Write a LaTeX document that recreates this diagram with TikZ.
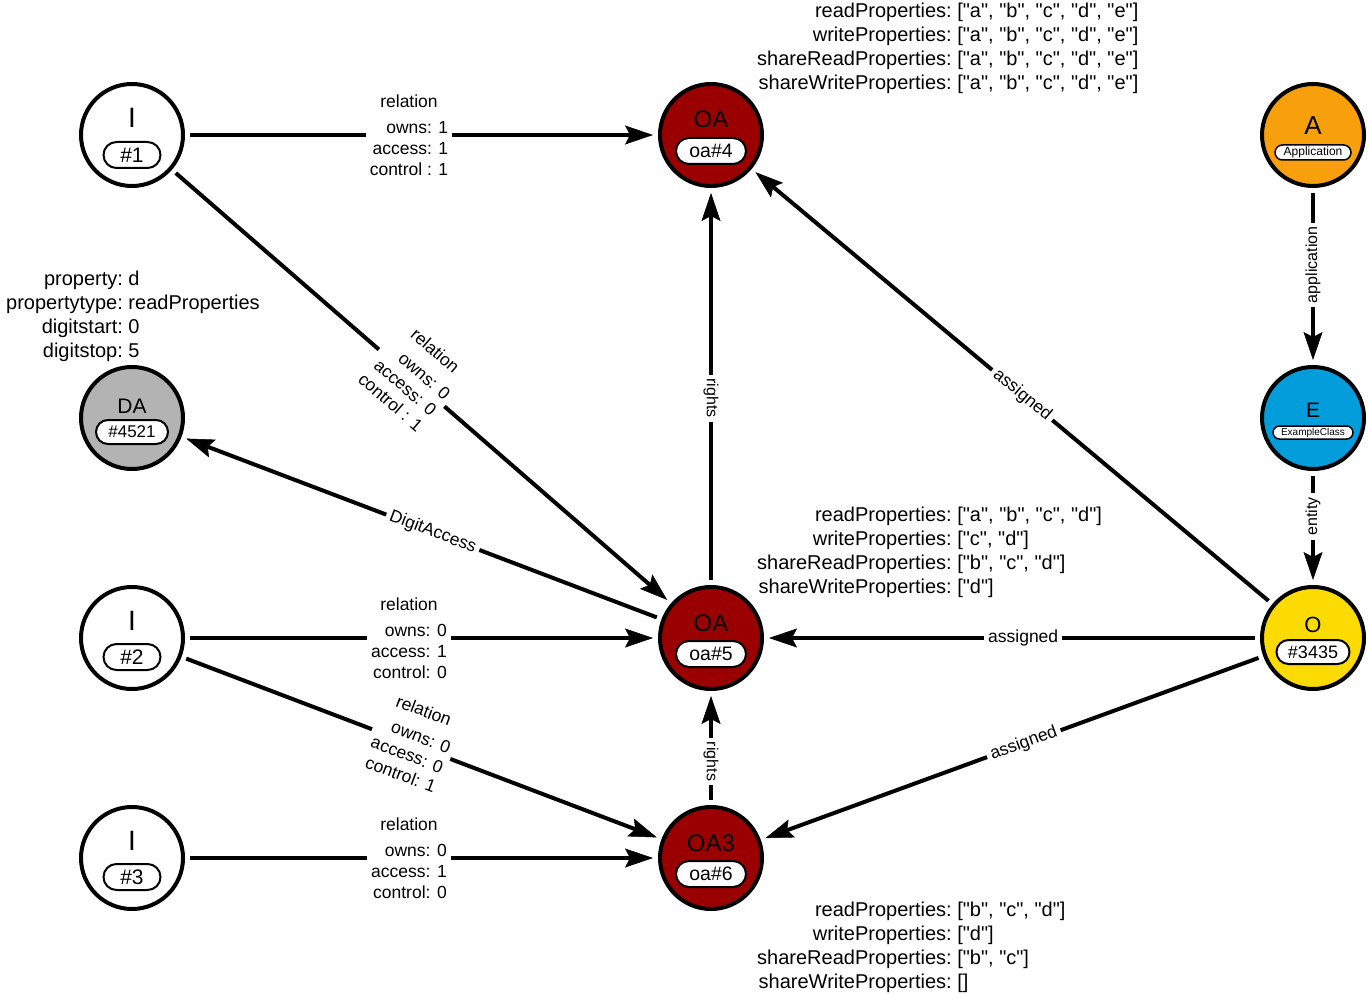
\documentclass[tikz,border=0pt]{standalone}
\usepackage{fontspec}
\setmainfont{Liberation Sans}[Ligatures=TeXOff]
\usetikzlibrary{arrows.meta}
\definecolor{oared}{HTML}{9B0000}
\definecolor{dagray}{HTML}{B3B3B3}
\definecolor{aorange}{HTML}{F8A00C}
\definecolor{eblue}{HTML}{039DDB}
\definecolor{oyellow}{HTML}{FCDB03}
\newcommand{\fs}[1]{\fontsize{#1}{#1}\selectfont}
\tikzset{
  ent/.style={circle, draw=black, line width=4pt, minimum size=102pt, inner sep=0pt, outer sep=7pt},
  big/.style={anchor=base, inner sep=0pt, font=\fs{#1}},
  pill/.style={draw=black, line width=2pt, fill=white, inner sep=0pt, text=black},
  conn/.style={line width=4pt, draw=black},
  arr/.style={conn, -{Stealth[length=28pt, width=19pt, inset=5pt, line width=0.5pt]}},
  elab/.style={fill=white, inner sep=4pt, font=\fontsize{17.5}{21}\selectfont},
  vlab/.style={fill=white, inner sep=4pt, font=\fs{16}},
  plab/.style={inner sep=0pt, anchor=base west, font=\fontsize{20}{24}\selectfont},
}
\begin{document}
\begin{tikzpicture}[x=1pt,y=-1pt]
\useasboundingbox (0,0) rectangle (1368,995);

% ---------- nodes ----------
% I nodes
\node[ent, fill=white] (i1) at (132,135) {};
\node[big=28] (i1t) at (132,127.5) {I};
\node[pill, minimum width=57pt, minimum height=26pt, rounded corners=13pt, font=\fs{21}] (i1p) at (132,155) {\#1};

\node[ent, fill=white] (i2) at (132,638) {};
\node[big=28] (i2t) at (132,630.5) {I};
\node[pill, minimum width=57pt, minimum height=26pt, rounded corners=13pt, font=\fs{21}] (i2p) at (132,657) {\#2};

\node[ent, fill=white] (i3) at (132,858) {};
\node[big=28] (i3t) at (132,850.5) {I};
\node[pill, minimum width=57pt, minimum height=26pt, rounded corners=13pt, font=\fs{21}] (i3p) at (132,877) {\#3};

% DA
\node[ent, fill=dagray] (da) at (132,418) {};
\node[big=21] (dat) at (132,413) {DA};
\node[pill, minimum width=72pt, minimum height=24pt, rounded corners=12pt, font=\fs{17}] (dap) at (132,432) {\#4521};

% OA nodes
\node[ent, fill=oared] (oa4) at (711,135) {};
\node[big=24] (oa4t) at (711,128) {OA};
\node[pill, minimum width=70pt, minimum height=26pt, rounded corners=13pt, font=\fs{19.5}] (oa4p) at (711,151) {oa\#4};

\node[ent, fill=oared] (oa5) at (711,638) {};
\node[big=24] (oa5t) at (711,631) {OA};
\node[pill, minimum width=70pt, minimum height=26pt, rounded corners=13pt, font=\fs{19.5}] (oa5p) at (711,654) {oa\#5};

\node[ent, fill=oared] (oa3) at (711,858) {};
\node[big=24] (oa3t) at (711,851) {OA3};
\node[pill, minimum width=70pt, minimum height=26pt, rounded corners=13pt, font=\fs{19.5}] (oa3p) at (711,874) {oa\#6};

% A, E, O
\node[ent, fill=aorange] (a) at (1313,135) {};
\node[big=26] (at) at (1313,135) {A};
\node[pill, line width=1.5pt, minimum width=76pt, minimum height=15pt, rounded corners=7.5pt, font=\fs{12}] (ap) at (1313,152.5) {Application};

\node[ent, fill=eblue] (e) at (1313,418) {};
\node[big=21] (et) at (1313,417) {E};
\node[pill, line width=1.5pt, minimum width=80pt, minimum height=13pt, rounded corners=6.5pt, font=\fs{10}] (ep) at (1313,432.5) {ExampleClass};

\node[ent, fill=oyellow] (o) at (1313,638) {};
\node[big=22] (ot) at (1313,632) {O};
\node[pill, minimum width=73pt, minimum height=24pt, rounded corners=12pt, font=\fs{18}] (op) at (1313,652) {\#3435};

% ---------- property blocks ----------
\node[plab] (p4) at (757,18) {\begin{tabular}[t]{@{}r@{\hspace{5.56pt}}l@{}}
readProperties: & ["a", "b", "c", "d", "e"]\\
writeProperties: & ["a", "b", "c", "d", "e"]\\
shareReadProperties: & ["a", "b", "c", "d", "e"]\\
shareWriteProperties: & ["a", "b", "c", "d", "e"]
\end{tabular}};

\node[plab] (p5) at (757,521) {\begin{tabular}[t]{@{}r@{\hspace{5.56pt}}l@{}}
readProperties: & ["a", "b", "c", "d"]\\
writeProperties: & ["c", "d"]\\
shareReadProperties: & ["b", "c", "d"]\\
shareWriteProperties: & ["d"]
\end{tabular}};

\node[plab] (p6) at (757,916) {\begin{tabular}[t]{@{}r@{\hspace{5.56pt}}l@{}}
readProperties: & ["b", "c", "d"]\\
writeProperties: & ["d"]\\
shareReadProperties: & ["b", "c"]\\
shareWriteProperties: & []
\end{tabular}};

\node[plab] (pda) at (6,285) {\begin{tabular}[t]{@{}r@{\hspace{5.56pt}}l@{}}
property: & d\\
propertytype: & readProperties\\
digitstart: & 0\\
digitstop: & 5
\end{tabular}};

% ---------- connectors ----------
\draw[arr] (i1) -- node[elab, pos=0.473, yshift=-2pt] (l1) {\begin{tabular}{@{}r@{}}\multicolumn{1}{@{}c@{}}{relation}\\[5pt]owns: 1\\access: 1\\control : 1\end{tabular}} (oa4);

\draw[arr] (i1) -- node[elab, sloped, pos=0.48] (l2) {\begin{tabular}{@{}r@{}}\multicolumn{1}{@{}c@{}}{relation}\\[5pt]owns: 0\\access: 0\\control : 1\end{tabular}} (oa5);

\draw[arr] (i2) -- node[elab, pos=0.473, yshift=-2pt] (l3) {\begin{tabular}{@{}r@{}}\multicolumn{1}{@{}c@{}}{relation}\\[5pt]owns: 0\\access: 1\\control: 0\end{tabular}} (oa5);

\draw[arr] (i2) -- node[elab, sloped, pos=0.478] (l4) {\begin{tabular}{@{}r@{}}\multicolumn{1}{@{}c@{}}{relation}\\[5pt]owns: 0\\access: 0\\control: 1\end{tabular}} (oa3);

\draw[arr] (i3) -- node[elab, pos=0.473, yshift=-2pt] (l5) {\begin{tabular}{@{}r@{}}\multicolumn{1}{@{}c@{}}{relation}\\[5pt]owns: 0\\access: 1\\control: 0\end{tabular}} (oa3);

\draw[arr] (oa5) -- node[elab, sloped, pos=0.476] (l6) {DigitAccess} (da);

\draw[arr] (oa5) -- node[vlab, rotate=-90, pos=0.47] (l7) {rights} (oa4);
\draw[arr] (oa3) -- node[vlab, rotate=-90, pos=0.37] (l8) {rights} (oa5);

\draw[arr] (o) -- node[elab, sloped, pos=0.48] (l9) {assigned} (oa4);
\draw[arr] (o) -- node[elab, pos=0.477] (l10) {assigned} (oa5);
\draw[arr] (o) -- node[elab, sloped, pos=0.476] (l11) {assigned} (oa3);

\draw[arr] (a) -- node[vlab, rotate=90, pos=0.43] (l12) {application} (e);
\draw[arr] (e) -- node[vlab, rotate=90, pos=0.39] (l13) {entity} (o);

\end{tikzpicture}
\end{document}
